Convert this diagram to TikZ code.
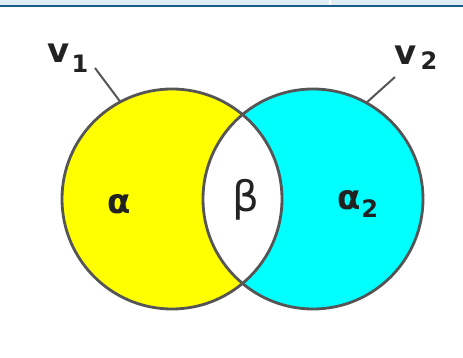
\documentclass[tikz,border=0pt]{standalone}
\usepackage{fontspec}
\setmainfont{DejaVu Sans}
\usetikzlibrary{positioning}
\definecolor{ink}{HTML}{222222}
\definecolor{rim}{HTML}{555555}
\definecolor{setone}{HTML}{FFFF00}
\definecolor{settwo}{HTML}{00FFFF}
\definecolor{bandfill}{HTML}{DFEEF4}
\definecolor{bandline}{HTML}{1C5D87}
\newcommand{\glyphsize}{\fontsize{34}{40}\selectfont}
\newcommand{\subsize}{\fontsize{24}{26}\selectfont}
\tikzset{
 every node/.append style={font=\glyphsize,text=ink,inner sep=0pt},
 venn/.style={circle,minimum size=220pt,inner sep=0pt,outer sep=0pt},
 outline/.style={draw=rim,line width=2.8pt},
 leader/.style={draw=rim,line width=2pt},
}

\begin{document}
\begin{tikzpicture}[x=1pt,y=-1pt]
\useasboundingbox (0,0) rectangle (463,358);

% header strip
\fill[bandfill] (0,0) rectangle (463,5);
\fill[white] (329,0) rectangle (331,5);
\draw[bandline,line width=2pt] (0,6) -- (463,6);

\node[venn,fill=setone] (left) at (172,199) {};
\node[venn,fill=settwo] (right) at (313,199) {};
\begin{scope}
  \clip (172,199) circle (110);
  \fill[white] (313,199) circle (110);
\end{scope}
\node[venn,outline] at (left) {};
\node[venn,outline] at (right) {};

\node (a1) at (119,204) {\bfseries α};
\node[font=\fontsize{42}{46}\selectfont] (b) at (246,200) {β};
\node (a2) at (358,204) {\bfseries α\raisebox{-.25em}{\subsize 2}};

\node (v1) at (68,58) {\bfseries v\kern2pt\raisebox{-.3em}{\subsize 1}};
\node (v2) at (416,58) {\bfseries v\kern4pt\raisebox{-.15em}{\subsize 2}};
\coordinate (v1end) at (95,68);
\coordinate (v2end) at (395,77);
\draw[leader] (v1end) -- (left.118.6);
\draw[leader] (v2end) -- (right.61);
\end{tikzpicture}
\end{document}
